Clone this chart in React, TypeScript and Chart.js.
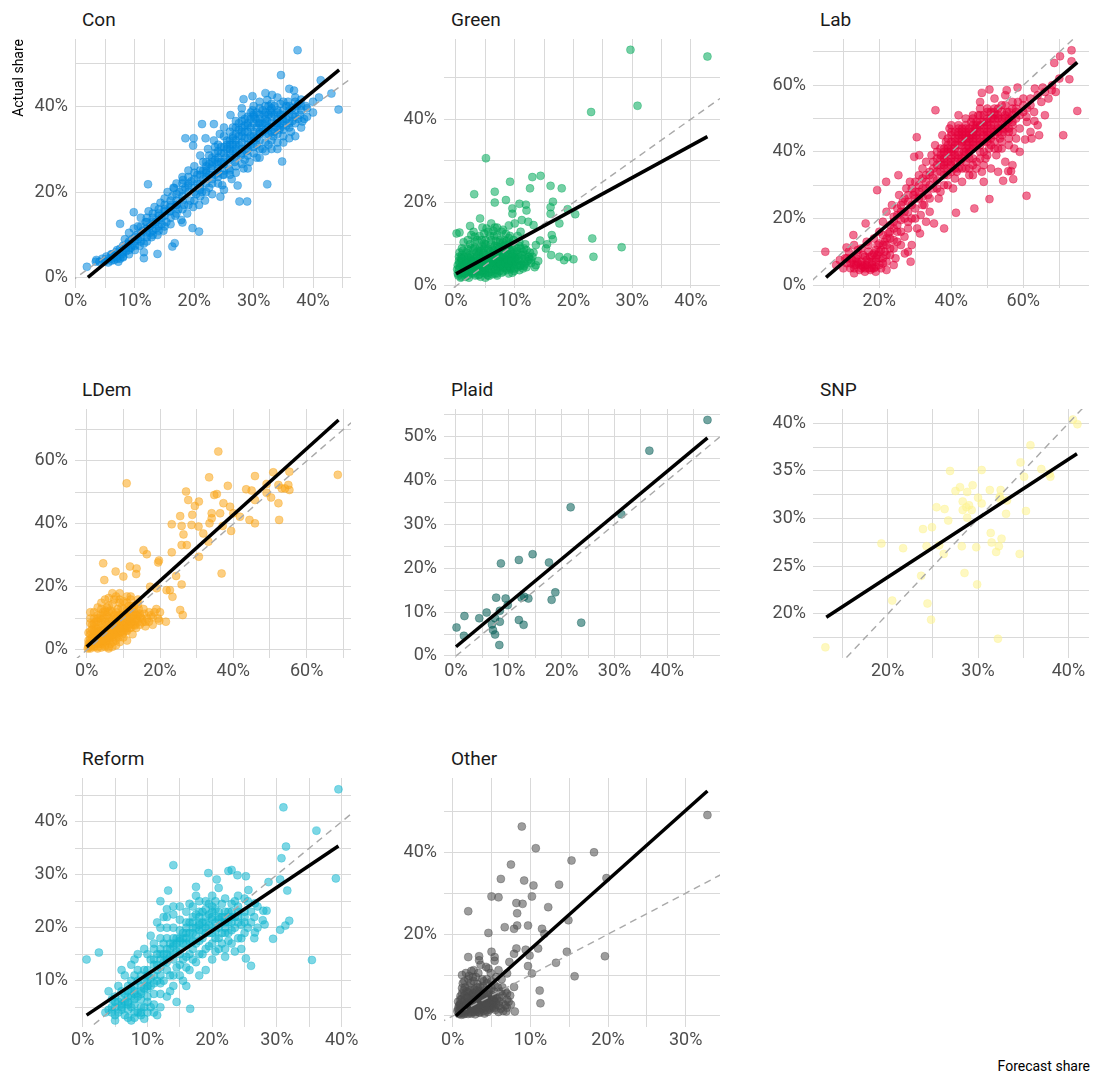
import React, { useEffect, useRef } from "react";
import { Chart, registerables } from "chart.js";

Chart.register(...registerables);

type P = [number, number];

// ---------- DATA (forecast %, actual %) ----------
const conPoints: P[] = [
  [37.4,53.0],[34.6,47.2],[41.3,46.0],[36.8,43.6],[43.1,42.9],[44.3,39.2],[38.2,36.4],[38.8,40.0],[28.3,41.6],[29.8,42.3],
  [32.3,41.4],[33.1,42.6],[26.1,37.9],[21.3,35.8],[23.3,35.8],[18.5,32.5],[19.9,32.5],[19.8,30.8],[21.9,32.5],[12.2,21.8],
  [32.3,21.8],[34.8,27.1],[27.6,17.8],[28.9,17.8],[20.8,10.8],[19.7,11.6],[16.3,7.3],[16.7,8.1],[9.8,15.3],[7.5,12.6],
  [11.5,4.6],[13.8,5.6],[1.9,2.6],[3.4,3.8],[18.0,12.9],[18.1,22.8],[16.6,20.9],[24.4,18.9],[24.7,21.6],
  [3.5,4.2],[4,3.8],[4.5,4.5],[5,4],[5.2,5],[5.5,3.6],[6,4.5],[6.2,5.5],[6.5,4.2],[6.8,6],[7,5],[7.2,3.8],[7.5,6.8],[7.8,5.5],
  [8,7.5],[8,4.8],[8.3,9],[8.5,6.2],[8.8,8],[9,10.5],[9,5.5],[9.3,7],[9.5,9],[9.8,11.5],[10,6.5],[10,8.5],[10.3,10],[10.5,12],
  [10.8,7.5],[11,9.5],[11,14],[11.3,11],[11.5,6],[11.8,13],[12,8.5],[12,10.5],[12.3,15.5],[12.5,12],[12.8,9.5],[13,14],[13,11],
  [13.3,16.5],[13.5,13],[13.8,10],[14,15],[14,12],[14.3,17.5],[14.5,14],[14.8,11],[15,16],[15,18.5],[15.3,13],[15.5,20],
  [15.8,15.5],[16,17],[16,12.5],[16.3,19],[16.5,21],[16.8,14.5],[17,18],[17,22],[17.3,16],[17.5,20],[17.8,13.5],[18,19],
  [18,23.5],[18.3,17],[18.5,21],[18.8,15],[19,20],[19,25],[19.3,18],[19.5,22.5],[19.8,16.5],[20,21],[20,26],[20.3,19.5],
  [20.5,24],[20.8,17],[21,22],[21,28.5],[21.3,20],[21.5,25],[21.8,18],[22,23.5],[22,27],[22.3,30],[22.5,21],[22.8,25.5],
  [23,28],[23,19.5],[23.3,32],[23.5,24],[23.8,26.5],[24,29.5],[24,22],[24.3,33.5],[24.5,27],[24.8,24],[25,30.5],[25,20.5],
  [25.3,28],[25.5,32],[25.8,25.5],[26,34],[26,29],[26.3,23],[26.5,31],[26.8,27],[27,35],[27,30],[27.3,21.5],[27.5,33],
  [27.8,28.5],[28,36.5],[28,31.5],[28.3,25.5],[28.5,34],[28.8,29.5],[29,37.5],[29,32.5],[29.3,27],[29.5,35],[29.8,39],
  [30,30.5],[30,34],[30.3,37],[30.5,28],[30.8,36],[31,39.5],[31,32],[31.3,35],[31.5,30],[31.8,38],[32,40],[32,33.5],
  [32.3,36.5],[32.5,31],[32.8,39],[33,35],[33,37.5],[33.3,33],[33.5,40],[33.8,36],[34,31.5],[34,38.5],[34.3,34.5],
  [34.5,40.5],[34.8,37],[35,33],[35,39],[35.5,35.5],[35.8,41],[36,37.5],[36.3,34],[36.5,39.5],[37,36],[37.3,40],[37.8,38],
  [38,41.5],[38.5,37],[39,39.5],[26,32],[27,33.5],[28,34],[29,35.5],[30,33],[31,36],[32,37],[33,38.5],[27.5,31],[29.5,31],
  [31.5,34],[28.5,32.5],[30.5,35],[26.5,33],[25,26.5],[24,25.5],[32.5,35],[34,36],
  [20.5,22],[21,25],[21.5,23],[22,26],[22.5,24],[23,27],[23.5,29],[24,31],[24.5,29],[25,33],[25.5,30],[26,27.5],[26.5,35],
  [27,32],[27.5,36],[28,30],[28.5,37],[29,34],[29.5,33],[30,37.5],[30.5,31],[31,38],[31.5,36],[32,34.5],[32.5,38],[33,40.5],
  [33.5,34],[34,37],[34.5,36],[35,38],[35.5,40],[36,36],[36.5,38],[37,39],[37.5,37],[38,40],[23,23],[24,27],[25,25],[26,30],
  [27,28],[28,33],[29,30],[30,36],[31,33.5],[32,31.5],[33,36],[34,33.5],[35,36.5],[36,40],[27,26],[29,28.5],[31,30],[33,32],
  [26.5,29.5],[28.5,27.5],[30.5,32.5],[32.5,33.5],[34.5,35],[22,20],[23,22],[24,23.5],[25,24],[26,25],[27,36.5],[28,38],
  [29.5,38.5],[31,41],[25,35],[23.5,30.5],[22.5,28.5],[21.5,27],[20,23],[19,22],[18,20.5],[17,19.5],[16,18],[15,14.5],
  [14,13.5],[13,12.5],[12,11.5],[11,10.5],[10,9.5],[9,8.5],[8,6],[7,6.5],[6,5.5],[12,13],[13,15],[14,16],[15,17],[16,15.5],
  [17,17],[18,18],[19,21.5],[20,24.5],[21,19],[22,22],[10.5,9],[11.5,8],[12.5,10.5],[13.5,11.5],[14.5,12.5],[9.5,7.5],
  [8.5,7],[7.5,4.5],[6.5,5],[5.5,4.5],[4.8,3.8],[26,24],[27,24.5],[28,26.5],[29,25.5],[30,29],[31,28],[32,29.5],[33,30],
  [34,30],[35,31.5],[36,32.5],[37,33],[38,35],[39,37.5],[40,41],[40,38.5],[41,42],[37,42],[36,44],[34,42],[32,43],[30,40],
  [28,39.5],
  [21,24],[22,25],[23,26],[24,28],[25,29],[26,31],[27,31],[28,35],[29,36],[30,38],[31,37],[32,38.5],[33,39.5],[34,39],[35,41],
  [36,39],[37,41],[24,24.5],[25,27],[26,28],[27,29],[28,29],[29,31],[30,32],[31,34],[32,36],[33,34],[34,35],[35,34.5],[36,35],
  [37,37.5],[38,39],[22.5,26.5],[23.5,27.5],[24.5,30.5],[25.5,31],[26.5,32.5],[27.5,34.5],[28.5,35.5],[29.5,37],[30.5,38.5],
  [31.5,39],[32.5,40],[33.5,38],[34.5,38],[35.5,37],[36.5,36.5],[37.5,40.5],[10,7.5],[11,8.5],[12,9.5],[13,10],[14,11],[15,12],
  [16,14],[17,15],[18,16],[19,17],[20,18],[21,20.5],[9,6.5],[8,5],[7,4.5],[6,4],[11,12],[12,14],[13,13],[14,14.5],[15,15.5],
  [16,16.5],[17,17],[18,22],[19,23.5],[20,20],[21,21],[22,24.5]
];

const greenPoints: P[] = [
  [29.7,56.6],[42.8,55.0],[23.0,41.7],[30.9,43.2],[5.1,30.6],[9.2,25.0],[13.0,26.1],[14.4,26.4],[12.6,23.4],[16.1,24.0],
  [18.0,23.4],[3.1,22.0],[6.6,22.6],[6.6,20.0],[8.5,20.6],[9.6,18.6],[10.8,19.7],[11.9,19.5],[16.5,20.2],[16.1,18.9],
  [19.0,18.4],[20.3,17.2],[16.1,17.3],[17.6,15.0],[16.3,12.2],[16.5,11.2],[15.5,10.0],[15.3,9.0],[14.3,10.9],[13.6,9.8],
  [13.6,5.0],[16.2,7.4],[17.6,7.0],[18.4,6.2],[19.0,6.9],[20.0,6.4],[23.2,11.4],[23.4,7.0],[28.2,9.3],[4.1,16.2],
  [2.4,14.4],[0.1,12.6],[0.6,12.8],[11.2,15.8],[12.3,15.4],[13.2,14.6],[10.0,15.0],[12.0,18.1],[9.6,17.3],
  [0.5,4],[0.5,6],[0.8,3],[1,5],[1,7.5],[1.2,4.2],[1.5,6],[1.5,3.5],[1.8,8],[2,5],[2,2.5],[2.2,6.8],[2.5,4],[2.5,9],
  [2.8,5.5],[3,3],[3,7],[3.2,10.5],[3.5,4.5],[3.5,6],[3.8,8.5],[4,3.5],[4,5.5],[4,12],[4.2,7],[4.5,4.5],[4.5,9.5],[4.8,6],
  [5,3],[5,5],[5,7.5],[5,11],[5.3,4],[5.5,6.5],[5.5,8.5],[5.5,13],[5.8,5],[6,3.5],[6,7],[6,10],[6.3,6],[6.5,4.5],[6.5,8],
  [6.5,12],[6.8,5.5],[7,7],[7,3],[7,9.5],[7.3,6],[7.5,4.5],[7.5,8],[7.5,11],[7.8,5.5],[8,7],[8,9.5],[8,3.5],[8.3,6],[8.5,8],
  [8.5,12.5],[8.8,5],[9,7],[9,10],[9.3,4],[9.5,6.5],[9.5,9],[10,5.5],[10,8],[10.3,7],[10.5,4.5],[10.8,6],[11,9],[11.5,5.5],
  [11.8,7.5],[12,4.5],[12.5,6.5],[3,13],[4.5,14],[6,15],[7,14],[8,13.5],[9,14.5],[5,2],[7,2.5],[9,3],[2,11],[1,9],[3.5,8],
  [6.2,9],[9.8,11],[10.5,12],[11,13],[0.8,2],[1.6,2.2],[2.7,3.6],[3.8,2.6],[4.6,3.2],[5.6,2.4],[6.6,3.8],[7.8,3.2],[8.6,4.2],
  [9.6,5],[10.8,3.8],[11.6,4.8],[12.8,5.5],[1.3,10.5],[2.6,12.2],[4.8,10.2],[6.8,10.8],[8.2,11],[9.2,12],
  [0.3,3],[0.3,5],[0.5,7],[0.7,4.5],[0.9,6],[1.1,3.2],[1.3,5.2],[1.4,7],[1.6,4.4],[1.7,2.8],[1.9,6.2],[2.1,3.8],[2.3,5],
  [2.4,7.5],[2.6,3],[2.7,6],[2.9,4.2],[3.1,5.5],[3.3,2.5],[3.4,6.8],[3.6,3.6],[3.7,5],[3.9,7.8],[4.1,4.5],[4.2,2.2],[4.4,6],
  [4.6,5],[4.7,8],[4.9,3.8],[5.1,6.2],[5.2,4.6],[5.4,9],[5.6,3.2],[5.7,5.8],[5.9,7.2],[6.1,4.2],[6.2,5.4],[6.4,8.5],[6.6,3],
  [6.7,6.5],[6.9,4.8],[7.1,5.9],[7.2,8.8],[7.4,3.6],[7.6,6.8],[7.7,5],[7.9,7.8],[8.1,4.6],[8.2,6.2],[8.4,9.8],[8.6,3.8],
  [8.7,5.6],[8.9,7.4],[9.1,6],[9.2,4.4],[9.4,8.2],[9.6,5.2],[9.7,7],[9.9,3.6],[10.1,6.4],[10.2,9.2],[10.4,5],[10.6,7.6],
  [10.9,4.8],[11.2,6.6],[11.4,8.2],[11.7,5.2],[12.2,6],[12.6,8],[13,7],[13.4,4.5],[14,6],[2,4.2],[3,4.8],[4,6.5],[5,5.8],
  [6,6.2],[7,5.2],[8,5.8],[9,5.4],[10,6.8],[1.5,5],[2.5,6.2],[3.5,5.2],[4.5,5.4],[5.5,5.6],[6.5,6],[7.5,7],[8.5,6.6],
  [9.5,7.2],[3,8.8],[4,9],[5,10],[6,11],[7,12.2],[8,10.5],[9,11.5],[2,7],[1,6.5],[0.6,8],[3.2,11.8],[4.4,11],[5.8,12],
  [7.8,13],[6.6,14],[5.2,13.8],[8.8,9],[10.8,10.5],[11.8,10],
  [0.2,4],[0.4,2.5],[0.6,5.5],[0.8,6.8],[1,2.2],[1.2,8.5],[1.4,4.8],[1.6,3],[1.8,5.6],[2,8.8],[2.2,2],[2.4,4.6],[2.6,7],
  [2.8,3.4],[3,6],[3.2,9.2],[3.4,4],[3.6,7.2],[3.8,5.4],[4,2.8],[4.2,8.4],[4.4,3.6],[4.6,7],[4.8,9],[5,4.2],[5.2,6.8],
  [5.4,2.6],[5.6,4.8],[5.8,8.2],[6,5.6],[6.2,2.8],[6.4,7.4],[6.6,9.6],[6.8,4],[7,6.4],[7.2,4.6],[7.4,9.2],[7.6,5.2],[7.8,8.6],
  [8,4.4],[8.2,7.6],[8.4,5.4],[8.6,9],[8.8,6.2],[9,4.8],[9.2,8.6],[9.4,6],[9.6,3.2],[9.8,7.8],[10,4.2],[10.2,5.8],[10.4,8.4],
  [10.6,6.4],[10.8,9.6],[11,5],[11.2,7.4],[11.4,4.2],[11.6,9],[11.8,6.6],[12,8.6],[12.4,7],[12.8,6.2],[13.2,8],[2.4,10],
  [3.6,11],[4.8,12.6],[6.4,13.2],[7.4,10.4],[8.6,10.8],[9.6,10.2]
];

const labPoints: P[] = [
  [5.0,10.0],[73.4,70.5],[70.2,68.7],[73.4,67.2],[68.6,66.7],[72.8,61.8],[75.0,52.3],[71.1,45.0],[60.9,26.8],[64.4,45.0],
  [35.6,52.5],[30.4,44.4],[29.7,38.5],[31.1,39.0],[21.9,31.0],[19.4,28.5],[41.3,21.7],[46.4,23.0],[50.6,25.8],[28.7,7.0],
  [27.1,9.5],[38.0,17.0],[35.2,18.5],[31.3,15.5],[54.4,31.3],[57.2,31.8],[55.8,34.2],[56.6,34.2],[58.4,59.3],[50.6,58.7],
  [48.5,57.7],[48.0,55.0],[55.4,58.5],[63.2,59.0],[65.4,59.3],[67.9,58.5],[60.9,50.5],[63.1,49.3],[60.5,43.7],[62.3,44.0],
  [10.9,11.3],[12.8,15.0],[16.2,18.5],[25.3,33.0],
  [8,6],[9,7.5],[10,5],[10.5,8],[11,6.5],[11.5,10],[12,5],[12.5,7.5],[13,12],[13.5,6],[14,9],[14.5,4.5],[15,7],[15,11],
  [15.5,5.5],[16,8.5],[16.5,13],[16.5,6],[17,10],[17.5,4.5],[18,7],[18.5,9.5],[18.5,14],[19,5.5],[19.5,12],[20,8],[20,16],
  [20.5,10.5],[21,19],[21,6.5],[21.5,13],[22,9],[22,22],[22.5,15.5],[23,11],[23,18],[23.5,24],[24,13.5],[24,20.5],[24.5,8],
  [25,16],[25,23],[25.5,27],[26,12],[26,19.5],[26.5,25],[27,14.5],[27,22],[27.5,29],[28,17],[28,25],[28.5,31],[29,12],
  [29,20],[29.5,27],[30,23],[30,31],[30.5,17],[31,26],[31,33],[31.5,21],[32,29],[32,35],[32.5,24],[33,31],[33,37],[33.5,27],
  [34,33],[34,22],[34.5,39],[35,29],[35,35],[35.5,42],[36,31.5],[36,38],[36.5,26],[37,34],[37,41],[37.5,45],[38,30],[38,37],
  [38.5,43],[39,33],[39,40],[39.5,47],[40,36],[40,43],[40.5,29],[41,39],[41,46],[41.5,34],[42,42],[42,48],[42.5,37],[43,44],
  [43,31],[43.5,40],[44,47],[44,35],[44.5,42],[45,38],[45,45],[45.5,49],[46,33],[46,41],[46.5,47],[47,37],[47,44],[47.5,51],
  [48,40],[48,46],[48.5,34],[49,43],[49,49],[49.5,38],[50,45],[50,52],[50.5,41],[51,47],[51,35],[51.5,50],[52,43],[52,46],
  [52.5,39],[53,48],[53,53],[53.5,44],[54,41],[54,50],[54.5,46],[55,48],[55,37],[55.5,52],[56,44],[56,49.5],[57,46],[57,53],
  [57.5,41],[58,50],[58.5,55],[59,47],[60,52],[60,56],[61,49],[62,54],[63,52],[64,57],[65,55],[66,58],[67,56],[68,60],
  [69,58],[70,62],[64,48],[62,46],[66,51],[59,40],[57,36],[53,34],[49,31],[45,35],[41,32],[37,28],[33,19],[28,10],[24,6],
  [22,4.5],[19,4],[16,4],[13,3.5],[46,51],[44,50],[42,51],[40,48],[48,53],[52,56],[55,57],[42,44],[44,43],[46,44],[48,42],
  [50,48],[52,50],[44,39],[46,38],[40,40],[38,39],[43,46],[47,48],[49,46],[51,44],[45,41],
  [12,6.5],[13,5],[13.5,8],[14,6.5],[15,5],[15.5,9],[16,6],[16.5,7.5],[17,5],[17.5,8.5],[18,6],[18.5,5],[19,7],[19.5,9],
  [20,6],[20.5,5],[21,8],[21.5,10],[22,7],[23,9],[24,11],[25,13],[14,10.5],[17,12],[19,10.5],[21,12],[23,14],[25,18],[26,16],
  [27,20],[28,22],[29,24],[30,26],[31,28],[32,26.5],[33,29],[34,30],[35,32],[36,34],[37,36],[38,35],[39,37],[40,39],[41,41],
  [42,40],[43,42],[44,44],[45,43],[46,45],[47,46],[48,44],[49,47],[50,46],[51,48],[52,48],[53,46],[54,47],[55,50],[56,47],
  [57,49],[58,52],[59,51],[60,54],[61,53],[62,56],[36,40],[37,38],[38,41],[39,44],[40,45],[41,44],[42,46],[43,47],[44,45],
  [45,47],[46,48],[47,49],[48,48],[49,51],[50,50],[51,52],[52,52],[53,50],[54,52],[55,54],[56,52],[57,55],[38,33],[40,34],
  [42,35],[44,37],[46,36],[48,38],[50,39],[52,41],[54,43],[56,42],[58,44],[36,29],[34,26],[32,24],[30,20],[28,19],[26,22],
  [24,17],[22,12],[20,10],[39,30],[41,37],[43,38],[45,40],[47,42],[49,40],[51,42],[53,41],[39,35],[41,35],[43,35],[45,33],
  [47,35],[49,36],[50,43],[46,43],[44,41],[42,38],[40,37],[38,38],
  [36,36],[37,39],[38,40],[39,42],[40,41],[41,43],[42,45],[43,45],[44,46],[45,46],[46,46],[47,47],[48,49],[49,48],[50,49],
  [51,50],[52,51],[53,51],[54,49],[55,51],[56,50],[57,51],[58,53],[38,36],[40,38],[42,39],[44,40],[46,42],[48,43],[50,44],
  [52,45],[54,45],[56,46],[39,41],[41,42],[43,43],[45,44],[47,45],[49,45],[51,46],[53,47],[55,47],[57,48],[44,48],[46,50],
  [48,51],[50,53],[52,53],[54,54],[40,46],[42,47],[30,28],[31,30],[32,32],[33,33],[34,34],[35,37],[29,29],[28,27],[27,26],
  [26,24],[25,21],[24,19],[23,16],[22,14],[21,15],[20,12.5],[19,8],[18,9],[17,7],[16,5],[15,6],[14,7],[13,6],[12,8],[11,8],
  [18,5]
];

const ldemPoints: P[] = [
  [35.9,63.0],[10.9,52.9],[33.4,54.8],[45.9,55.2],[50.9,56.4],[55.3,56.6],[68.5,55.6],[38.5,52.1],[27.1,50.3],[43.5,51.0],
  [45,50.6],[49.1,52.7],[52.3,52.4],[53.2,51.3],[54.1,51.3],[55,52.4],[55.3,50.8],[49.1,49.9],[50.3,48.4],[52.3,46.6],
  [52.5,41.3],[44.4,41.3],[45.9,40.2],[45.9,47.6],[41.8,42.3],[27.7,47.6],[29.5,45.7],[30.6,47.1],[25.5,42.5],[23.2,39.9],
  [25.9,39.4],[26.4,36.7],[28.8,42.9],[28.6,39.7],[30.5,39.2],[31.8,37.0],[33.2,34.4],[27.3,33.3],[25.9,33.3],[30.6,29.6],
  [23.2,31.0],[15.5,31.7],[16.4,30.4],[19.5,27.8],[19.7,28.4],[4.5,27.5],[7.9,24.9],[4.8,22.2],[11.8,26.5],[13.6,25.9],
  [13.5,24.1],[36.8,24.3],[25.9,20.8],[24.4,23.5],[26.2,11.1],[25.5,12.7],[21.6,9.0],[19.8,9.3],[23.4,16.9],[21.8,19.0],
  [22.7,19.0],[19.1,19.6],[17.3,20.1],[10.0,23.3],[34.1,43.4],[34.1,41.8],[36.4,43.4],[37.3,46.6],[39.1,45.5],[40,43.4],
  [34.8,49.2],[35.5,49.5],[37.1,39.4],[39.4,37.8],[33.5,40.2],
  [0.5,1],[0.5,3],[1,2],[1,5],[1.5,1.5],[1.5,4],[1.5,8],[2,3],[2,6],[2,10],[2.5,2],[2.5,4.5],[3,1],[3,3.5],[3,7],[3,11],
  [3.5,5],[3.5,2],[4,4],[4,8.5],[4,13],[4.5,2.5],[4.5,6],[5,4],[5,9],[5,1.5],[5.5,6.5],[5.5,11],[6,3],[6,5],[6,8],[6,14],
  [6.5,10],[6.5,2],[7,6],[7,4],[7,12],[7.5,8],[7.5,16],[8,5],[8,10],[8,3],[8.5,7],[8.5,13],[9,9],[9,5.5],[9,15],[9.5,11],
  [10,7],[10,4],[10,13],[10.5,9],[11,6],[11,11],[11,17],[11.5,8],[12,10],[12,14],[12.5,5],[13,9],[13,12],[13.5,7],[14,11],
  [14,16],[14.5,8],[15,10],[15.5,13],[16,7.5],[17,9],[17,12],[18,8],[18,10.5],[19,13],[20,12],[5,16],[3,9],[7,18],[9,18],
  [12,17],[2,1],[4,0.8],[6,1],[8,1.5],[1,12],[1,10],[2.5,7],[3.5,6],[4.5,10],[5.5,3],[6.5,7],[7.5,5],[8.5,9],[9.5,7],
  [10.5,11],[11.5,14],[12.5,8],[13.5,10],[6,12],[8,12],[4,6],[2,4],
  [0.3,0.5],[0.8,1.5],[1.2,3],[1.7,2.5],[2.2,1.2],[2.7,3.2],[3.2,2.2],[3.7,4.2],[4.2,1.8],[4.7,3.8],[5.2,2.8],[5.7,4.6],
  [6.2,3.6],[6.7,5.5],[7.2,2.6],[7.7,4.8],[8.2,6.4],[8.7,4],[9.2,6.8],[9.7,5],[10.2,8],[10.7,6.2],[11.2,9],[11.7,7],[12.2,8.6],
  [12.7,11],[13.2,7.8],[13.7,9.5],[14.2,13],[14.7,10.5],[15.2,8.8],[15.7,11.5],[1,6],[2,7.5],[3,5.5],[4,7],[5,6.5],[6,9],
  [7,8],[8,8],[9,11],[10,10],[11,12.5],[12,12],[13,14],[14,14.5],[3,13.5],[4,15],[5,12.5],[6,16.5],[7,14.5],[8,17],[9,16],
  [10,15.5],[11,15],[12,16],[2,12],[1,8.5],[0.5,5.5],[1.5,6.5],[2.5,9],[3.5,10],[4.5,12],[5.5,13.5],[6.5,12.5],[7.5,11],
  [8.5,11],[9.5,13.5],[10.5,7],[11.5,10.5],[12.5,13],[13.5,12],[14.5,11.5],[16.5,10],[17.5,11],[18.5,12],[19.5,10],[16,9],
  [4,2],[5,1],[7,1],[9,2.5],[11,3],[6,0.5],[3,0.5],[2,2],[1,0.5],
  [0.5,2],[1,3.5],[1.5,2.5],[2,5],[2.5,3],[3,4.5],[3.5,3],[4,5],[4.5,3.5],[5,5.5],[5.5,4],[6,6],[6.5,4.5],[7,7],[7.5,6],
  [8,7],[8.5,5.5],[9,8],[9.5,6],[10,9],[10.5,6.5],[11,8],[11.5,9.5],[12,7],[12.5,10],[13,8],[13.5,11],[14,9],[1,1],[2,2.2],
  [3,2.5],[4,3],[5,3],[6,4],[7,5],[8,4],[9,7],[10,5.5],[11,7],[12,9],[3,6],[4,9.5],[5,7.5],[6,10],[7,9.5],[8,9],[9,10],
  [10,11],[11,10],[2,8.5],[3,10],[4,11],[5,12]
];

const plaidPoints: P[] = [
  [47.6,53.8],[36.6,46.8],[21.7,33.9],[31.3,32.3],[14.5,23.2],[11.9,21.9],[8.5,21.1],[17.6,21.3],[18.8,14.5],[18.1,12.8],
  [7.6,13.3],[9.4,13.1],[12.4,13.3],[12.9,13.5],[13.7,13.1],[9.8,11.6],[8.3,10.3],[5.8,9.9],[4.4,8.6],[1.6,9.1],
  [0.1,6.5],[1.5,4.6],[6.8,7.2],[7.0,5.9],[7.4,4.9],[8.3,7.8],[8.2,2.5],[11.9,8.2],[12.8,7.1],[23.7,7.6],[7.4,8.6]
];

const snpPoints: P[] = [
  [13.1,16.5],[19.3,27.4],[21.7,26.9],[20.5,21.4],[23.7,24.0],[24.4,21.1],[24.8,19.4],[23.9,28.9],[24.3,27.1],[24.9,29.1],
  [25.4,31.2],[25.7,27.2],[26.2,26.3],[26.3,31.0],[26.7,29.8],[26.9,35.0],[27.5,32.9],[28.0,33.3],[28.8,32.8],[28.3,31.8],
  [28.3,30.9],[28.7,31.2],[28.8,30.1],[29.0,31.4],[29.3,30.9],[29.4,33.5],[28.2,27.1],[28.5,24.3],[30.0,32.2],[30.4,31.6],
  [30.4,35.1],[29.8,27.0],[29.9,23.1],[31.3,33.0],[32.5,33.0],[32.4,32.1],[33.2,31.9],[33.1,30.5],[31.4,28.5],[31.5,27.5],
  [32.0,26.5],[32.3,27.1],[32.6,27.9],[32.2,17.4],[34.6,26.3],[34.7,35.9],[35.1,34.4],[35.3,30.8],[35.8,37.7],[37.0,35.2],
  [38.0,34.4],[37.9,34.7],[40.5,40.4],[41.0,39.9],[32.4,32.3]
];

const reformPoints: P[] = [
  [39.5,46.1],[31.0,42.7],[36.1,38.3],[31.4,35.3],[30.7,33.1],[39.1,29.3],[30.5,29.1],[28.7,28.6],[31.6,27.0],[31.9,21.3],
  [31.3,20.4],[30.5,19.6],[29.4,17.9],[35.4,13.9],[26.0,12.8],[25.2,14.2],[0.6,14.0],[2.5,15.3],[14.0,31.8],[13.2,27.0],
  [16.6,4.7],[22.5,30.7],[23.9,29.9],[25.2,29.7],[19.4,30.3],[20.7,29.1],[17.5,27.7],[27.9,23.2],[28.4,23.2],[28.1,20.6],
  [26.6,19.1],[27.8,21.4],[26.6,24.6],[23.0,30.9],[25.6,27.1],
  [3.5,4],[4,8],[4.5,5],[5,3.5],[5,7],[5.5,9],[6,4.5],[6,6.5],[6.5,11],[7,3],[7,5.5],[7,8],[7.5,10],[7.5,13],[8,4],[8,6.5],
  [8,9],[8.5,12],[8.5,15],[9,3.5],[9,5],[9,7.5],[9.5,10],[9.5,16],[10,4],[10,6],[10,8.5],[10,12],[10.5,14],[10.5,18.5],
  [11,5.5],[11,9.5],[11,16],[11.5,12],[11.5,21],[12,7.5],[12,14],[12,18],[12.5,10],[12.5,22],[13,12],[13,16],[13,20],
  [13.5,8],[13.5,14.5],[14,11],[14,18],[14,22.5],[14.5,6],[14.5,15.5],[15,13],[15,19.5],[15,24],[15.5,10],[15.5,17],
  [16,14.5],[16,21],[16.5,12],[16.5,19],[16.5,24.5],[17,16],[17,22],[17.5,13.5],[17.5,20],[17.5,26],[18,17.5],[18,23],
  [18.5,15],[18.5,21],[19,19],[19,25],[19,12],[19.5,16.5],[19.5,22.5],[20,20],[20,14],[20,26],[20.5,18],[20.5,23.5],[21,16],
  [21,21.5],[21,27.5],[21.5,19],[22,14.5],[22,23],[22,25.5],[22.5,17.5],[22.5,21],[23,19.5],[23,24.5],[23.5,15.5],[23.5,22],
  [24,18],[24,26],[24.5,20.5],[24.5,16],[25,23],[25,19],[25.5,25],[26,21],[26.5,18],[8,14],[6,12],[12,25],[13,23.5],[16,9],
  [18,11],[5,2.5],[9.5,2.8],[11.5,3.5],[7.5,2.5],[12,16],[14,16.5],[16,18],[18,19.5],[20,21.5],[22,19],[15,15],[17,17.5],
  [4,4.5],[4.5,6.5],[5,5],[5.5,4],[6,8],[6.5,6],[6.5,3.5],[7,7],[7.5,5],[7.5,8.5],[8,5.5],[8,11],[8.5,7],[8.5,4],[9,9],
  [9,6.5],[9.5,5],[9.5,12],[10,7],[10,10],[10.5,9],[10.5,5],[11,7.5],[11,13],[11.5,10],[11.5,15],[12,12.5],[12,9.5],[12.5,15],
  [12.5,17],[13,13.5],[13,18],[13.5,11],[13.5,17],[14,14],[14,20],[14.5,12.5],[14.5,18],[15,16],[15,21.5],[15.5,14],[15.5,19],
  [16,12.5],[16,17],[16,23],[16.5,15],[16.5,21],[17,14],[17,19],[17,24],[17.5,17],[17.5,22.5],[18,15],[18,21],[18,25],
  [18.5,18],[18.5,23],[19,16],[19,21],[19,23.5],[19.5,19],[19.5,24.5],[20,17],[20,22],[20,24],[20.5,15.5],[20.5,21],[20.5,25],
  [21,18],[21,23],[21.5,17],[21.5,21],[21.5,24.5],[22,16],[22,20],[22.5,23],[22.5,19],[23,17],[23,22],[23.5,20],[23.5,25],
  [24,21],[24,23],[24.5,18],[25,21],[25,25.5],[25.5,20],[26,23],[26.5,22],[27,20],[27,24],[10,15],[11,17],[12,20],[13,22],
  [14,24],[15,11],[14,9],[13,7],[12,5],[11,4],[9,4],[7,4.5],[6,5.5],[5,6],[8,3],
  [6,5],[7,6],[8,7.5],[9,8],[10,9],[11,11],[12,11],[13,14],[14,15],[15,17.5],[16,19],[17,20],[18,20.5],[19,20],[20,23],
  [21,22],[22,22],[23,23],[24,22],[25,22],[7,9],[8,8],[9,11],[10,11],[11,14],[12,15],[13,15],[14,17],[15,18],[16,20],[17,21],
  [18,22],[19,22],[20,19],[21,20],[22,21],[23,21],[24,24],[8.5,10],[9.5,8.5],[10.5,10.5],[11.5,13],[12.5,13.5],[13.5,16],
  [14.5,17],[15.5,18],[16.5,17.5],[17.5,18.5],[18.5,19.5],[19.5,20.5],[20.5,19.5],[21.5,22],[22.5,22],[6.5,7.5],[5.5,6],
  [4.5,4],[7.5,7]
];

const otherPoints: P[] = [
  [32.8,49.1],[8.9,46.3],[10.7,41.0],[18.2,40.0],[7.5,37.0],[15.3,38.0],[6.2,33.5],[9.2,33.1],[10.4,31.9],[13.7,32.1],
  [19.8,33.7],[5.0,29.2],[5.9,29.0],[10.2,29.2],[8.2,27.6],[9.0,27.4],[12.3,26.6],[2.0,25.6],[8.3,25.1],[6.7,21.7],
  [7.9,21.3],[8.3,22.1],[9.7,22.1],[11.5,21.3],[11.8,20.1],[14.9,23.4],[4.6,20.3],[2.0,14.4],[3.4,13.6],[5.0,15.7],
  [5.4,14.4],[5.4,13.5],[7.3,13.2],[7.9,15.2],[8.2,16.5],[9.4,16.2],[9.9,14.8],[11.0,16.5],[9.7,12.2],[10.2,10.4],
  [13.3,13.0],[14.7,15.7],[19.6,14.6],[15.7,9.7],[11.2,6.2],[11.3,3.1],[7.9,7.1],[6.9,1.1],[8.0,1.1],[4.6,11.6],
  [5.9,11.2],[7.0,10.4],[6.4,7.0],[7.0,5.5],[3.4,14.6],[2.7,11.2],[1.2,10.0],
  [0.8,0.5],[1,1.5],[1,3],[1.2,0.8],[1.3,2],[1.5,4],[1.5,1],[1.7,2.5],[1.8,6],[2,1.5],[2,3.5],[2,0.5],[2.2,5],[2.3,8],
  [2.5,2],[2.5,4],[2.7,1],[2.8,6.5],[3,3],[3,9.5],[3,1.5],[3.2,5],[3.4,2.5],[3.5,7],[3.5,0.8],[3.7,4],[3.8,1.8],[4,3],
  [4,5.5],[4,8.5],[4.2,2],[4.5,4],[4.5,1],[4.7,6.5],[5,3],[5,2],[5.2,5],[5.5,1.5],[5.5,3.5],[5.8,7],[6,2.5],[6,4.5],
  [6.5,1.2],[6.5,3],[7,2],[7,4],[7.5,2.8],[1.2,5.5],[0.8,2.5],[1.6,7],[2.6,9.5],[3.3,10.5],[4.3,12],[1.4,3.5],[2.4,2.8],
  [3.6,3.8],[4.8,2.5],[0.6,1.2],[1.1,0.3],[2.9,0.4],[4.1,0.6],[1.8,4.5],[2.6,5.5],[3.1,6.2],[3.9,7.2],[4.4,9],[5.3,6],
  [6.2,6],[1.5,8.5],[2.1,9.8],
  [0.7,1.8],[0.9,0.8],[1.1,2.2],[1.3,1.2],[1.5,2.8],[1.6,0.6],[1.8,1.6],[1.9,3.2],[2.1,2.2],[2.2,0.9],[2.4,1.6],[2.5,3.4],
  [2.6,4.6],[2.8,2.2],[3,4.2],[3.1,1.1],[3.3,3],[3.4,6],[3.6,2],[3.7,5.2],[3.9,3.2],[4,1.2],[4.2,4.6],[4.3,2.8],[4.5,6],
  [4.6,3.4],[4.8,1.6],[4.9,4.8],[5.1,2.4],[5.3,3.8],[5.4,7.5],[5.6,2.8],[5.7,4.2],[6,3.6],[6.2,1.8],[6.4,5],[6.8,2.6],
  [7.2,3.5],[1.2,4.2],[1.4,6.2],[2,5.8],[2.2,7],[2.7,8.5],[3.2,7.8],[3.8,9],[4.4,8],[5,8.5],[5.6,9.5],[6.3,9],[6.8,6],
  [7.4,5],[1.3,8],[2,9],[1.7,10.5],[2.4,11],[3.6,12.5],[4.9,10.5],[1,4.8],[0.7,3.5],[2.3,2.6],[3.5,1.4],[4.7,2],[5.9,1],
  [0.9,2.8],[1.5,1.8],[2.5,1],[3.2,3.8],[4.1,4],[5.2,4.2],
  [0.8,1.2],[1,2.5],[1.2,1.6],[1.4,2.4],[1.6,1.4],[1.8,3],[2,2.2],[2.2,3],[2.4,2],[2.6,3.6],[2.8,1.6],[3,2.4],[3.2,1.8],
  [3.4,3.4],[3.6,2.6],[3.8,4.4],[4,2.2],[4.2,3.4],[4.4,2.6],[4.6,4.2],[4.8,3.2],[5,4],[5.2,2.8],[5.4,4.6],[1,4],[1.5,5],
  [2,4.5],[2.5,5.2],[3,5.8],[3.5,4.6],[4,6.2],[4.5,5.2],[5,6.8],[1.2,6.8],[2.2,6.2],[3.2,7],[1.4,0.4],[2.4,0.6],[3.4,0.9],
  [4.4,1.4],[5.4,2]
];

// regression line end points (forecast %, actual %)
const conFit: P[] = [[2.07, 0.16], [44.4, 48.4]];
const greenFit: P[] = [[0, 2.9], [42.8, 35.8]];
const labFit: P[] = [[5.2, 2.3], [75, 66.9]];
const ldemFit: P[] = [[0, 1.0], [68.7, 73]];
const plaidFit: P[] = [[0, 2.1], [47.6, 49.7]];
const snpFit: P[] = [[13.2, 19.65], [40.95, 36.8]];
const reformFit: P[] = [[0.6, 3.5], [39.5, 35.4]];
const otherFit: P[] = [[0.4, 0], [32.8, 55]];

const partyNames = ["Con", "Green", "Lab", "LDem", "Plaid", "SNP", "Reform", "Other"];

// ---------- LAYOUT / STYLE ----------
const PANEL_W = 276;
const PANEL_H = 249;
const PAD_L = 62;
const PAD_R = 16;
const PAD_T = 8;
const PAD_B = 34;
const COL_X = [75, 444, 813];
const ROW_Y = [39, 409, 778];

interface PanelDef {
  name: string;
  points: P[];
  fit: P[];
  color: string;
  col: number;
  row: number;
  x: [number, number, number, number]; // min, max, step, major
  y: [number, number, number, number];
}

const panels: PanelDef[] = [
  { name: partyNames[0], points: conPoints, fit: conFit, color: "#0087DC", col: 0, row: 0, x: [-0.1, 46.4, 5, 10], y: [-2.33, 55.6, 10, 20] },
  { name: partyNames[1], points: greenPoints, fit: greenFit, color: "#02A95B", col: 1, row: 0, x: [-2.04, 44.94, 5, 10], y: [-0.48, 59.2, 10, 20] },
  { name: partyNames[2], points: labPoints, fit: labFit, color: "#E4003B", col: 2, row: 0, x: [1.58, 78.25, 10, 20], y: [-0.9, 73.9, 10, 20] },
  { name: partyNames[3], points: ldemPoints, fit: ldemFit, color: "#FAA61A", col: 0, row: 1, x: [-3.19, 72.1, 10, 20], y: [-2.54, 76.5, 10, 20] },
  { name: partyNames[4], points: plaidPoints, fit: plaidFit, color: "#005B54", col: 1, row: 1, x: [-2.27, 49.97, 5, 10], y: [-0.46, 56.3, 5, 10] },
  { name: partyNames[5], points: snpPoints, fit: snpFit, color: "#FDF38E", col: 2, row: 1, x: [11.73, 42.28, 5, 10], y: [15.38, 41.5, 2.5, 5] },
  { name: partyNames[6], points: reformPoints, fit: reformFit, color: "#12B6CF", col: 0, row: 2, x: [-1.19, 41.44, 5, 10], y: [1.26, 48.24, 5, 10] },
  { name: partyNames[7], points: otherPoints, fit: otherFit, color: "#4d4d4d", col: 1, row: 2, x: [-1.12, 34.42, 5, 10], y: [-2.69, 58.16, 10, 20] },
];

function rgba(hex: string, a: number) {
  const n = parseInt(hex.slice(1), 16);
  return `rgba(${(n >> 16) & 255},${(n >> 8) & 255},${n & 255},${a})`;
}

function isMajor(v: number, major: number) {
  const r = v / major;
  return Math.abs(r - Math.round(r)) < 1e-6;
}

const TICK_FONT = { family: "Roboto", size: 18 };
const TICK_COLOR = "#4d4d4d";
const GRID_COLOR = "#d9d9d9";

function Panel({ def }: { def: PanelDef }) {
  const ref = useRef<HTMLCanvasElement>(null);
  const W = PANEL_W + PAD_L + PAD_R;
  const H = PANEL_H + PAD_T + PAD_B;
  useEffect(() => {
    const c = ref.current;
    if (!c) return;
    const [xmin, xmax, xstep, xmajor] = def.x;
    const [ymin, ymax, ystep, ymajor] = def.y;
    const lo = Math.min(xmin, ymin) - 10;
    const hi = Math.max(xmax, ymax) + 10;
    const chart = new Chart(c, {
      type: "scatter",
      data: {
        datasets: [
          {
            data: def.fit.map(([x, y]) => ({ x, y })),
            showLine: true,
            borderColor: "#000000",
            borderWidth: 3.5,
            pointRadius: 0,
            order: 0,
          },
          {
            data: [{ x: lo, y: lo }, { x: hi, y: hi }],
            showLine: true,
            borderColor: "#a9a9a9",
            borderWidth: 1.4,
            borderDash: [7, 5],
            pointRadius: 0,
            order: 1,
          },
          {
            data: def.points.map(([x, y]) => ({ x, y })),
            backgroundColor: rgba(def.color, 0.55),
            borderColor: rgba(def.color, 0.45),
            borderWidth: 0.8,
            pointRadius: 4,
            pointHoverRadius: 4,
            order: 2,
          },
        ],
      },
      options: {
        responsive: false,
        animation: false,
        devicePixelRatio: 1,
        events: [],
        layout: { padding: { left: 0, right: PAD_R, top: PAD_T, bottom: 0 } },
        plugins: { legend: { display: false }, tooltip: { enabled: false }, title: { display: false } },
        scales: {
          x: {
            type: "linear",
            position: "bottom",
            min: xmin,
            max: xmax,
            afterFit: (s: any) => {
              s.height = PAD_B;
              s.paddingLeft = 0;
              s.paddingRight = 0;
            },
            border: { display: false },
            grid: { color: GRID_COLOR, lineWidth: 1, drawTicks: false },
            ticks: {
              stepSize: xstep,
              includeBounds: false,
              autoSkip: false,
              maxRotation: 0,
              minRotation: 0,
              padding: 3,
              color: TICK_COLOR,
              font: TICK_FONT,
              callback: (v: any) => (isMajor(Number(v), xmajor) ? `${Math.round(Number(v))}%` : ""),
            },
          },
          y: {
            type: "linear",
            position: "left",
            min: ymin,
            max: ymax,
            afterFit: (s: any) => {
              s.width = PAD_L;
              s.paddingTop = 0;
              s.paddingBottom = 0;
            },
            border: { display: false },
            grid: { color: GRID_COLOR, lineWidth: 1, drawTicks: false },
            ticks: {
              stepSize: ystep,
              includeBounds: false,
              autoSkip: false,
              padding: 7,
              color: TICK_COLOR,
              font: TICK_FONT,
              callback: (v: any) => (isMajor(Number(v), ymajor) ? `${Math.round(Number(v))}%` : ""),
            },
          },
        },
      },
    } as any);
    return () => chart.destroy();
  }, [def]);
  return (
    <canvas
      ref={ref}
      width={W}
      height={H}
      style={{
        position: "absolute",
        left: COL_X[def.col] - PAD_L,
        top: ROW_Y[def.row] - PAD_T,
        width: W,
        height: H,
      }}
    />
  );
}

export default function App() {
  return (
    <div
      style={{
        position: "absolute",
        left: 0,
        top: 0,
        width: 1094,
        height: 1076,
        background: "#ffffff",
        fontFamily: "Roboto, sans-serif",
        overflow: "hidden",
      }}
    >
      {panels.map((p) => (
        <React.Fragment key={p.name}>
          <div
            style={{
              position: "absolute",
              left: COL_X[p.col] + 7,
              top: ROW_Y[p.row] - 30,
              fontSize: 19,
              lineHeight: "22px",
              color: "#1a1a1a",
              whiteSpace: "nowrap",
            }}
          >
            {p.name}
          </div>
          <Panel def={p} />
        </React.Fragment>
      ))}
      <div
        style={{
          position: "absolute",
          left: 11,
          top: 239,
          width: 200,
          textAlign: "right",
          fontSize: 14,
          lineHeight: "15px",
          color: "#000000",
          transform: "rotate(-90deg)",
          transformOrigin: "0 0",
          whiteSpace: "nowrap",
        }}
      >
        Actual share
      </div>
      <div
        style={{
          position: "absolute",
          left: 890,
          top: 1058,
          width: 200,
          textAlign: "right",
          fontSize: 14,
          lineHeight: "16px",
          color: "#000000",
          whiteSpace: "nowrap",
        }}
      >
        Forecast share
      </div>
    </div>
  );
}
